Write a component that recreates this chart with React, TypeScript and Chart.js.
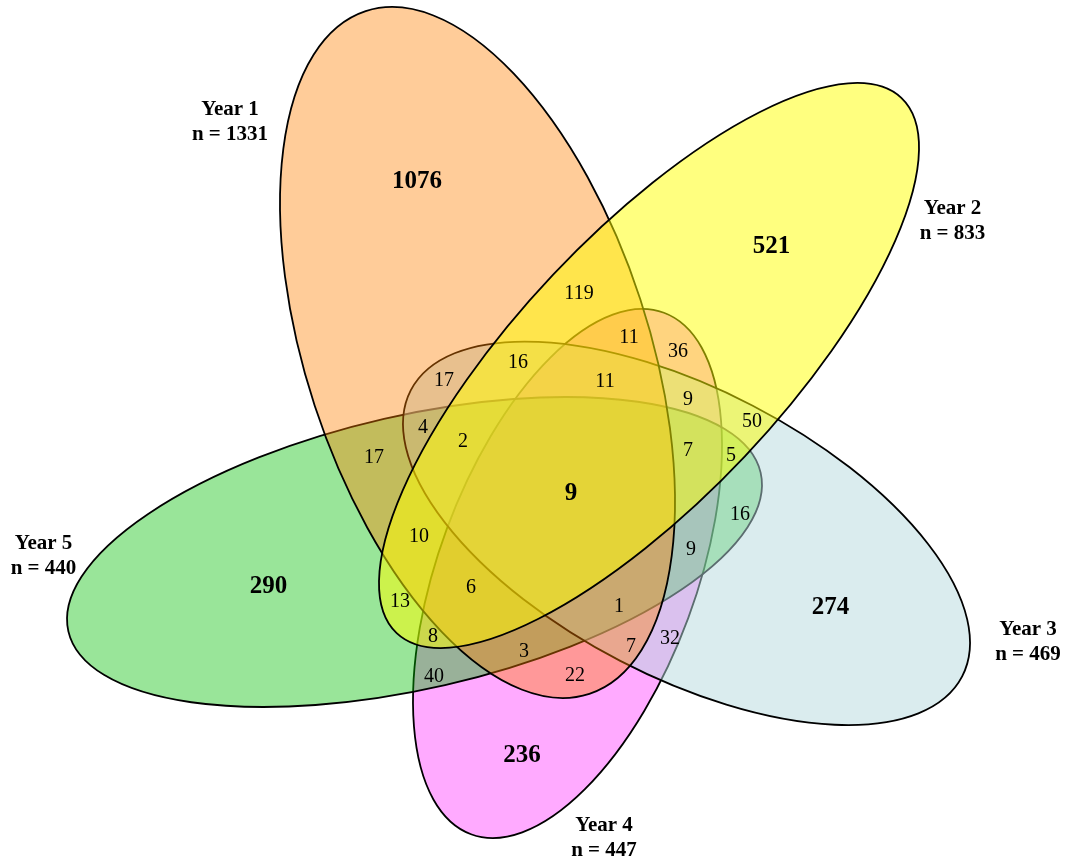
import React, { useEffect, useRef } from "react";
import { Chart, registerables } from "chart.js";

Chart.register(...registerables);

// ---- sets ----
const setNames = ["Year 1", "Year 2", "Year 3", "Year 4", "Year 5"];
const setSizes = [1331, 833, 469, 447, 440];
const uniqueCounts = [1076, 521, 274, 236, 290];
const allFiveCount = 9;

// ---- overlap region counts ----
const overlapCounts = [119, 11, 36, 16, 17, 11, 9, 4, 2, 17, 7, 10, 9, 50, 5, 16, 6, 13, 1, 8, 32, 3, 7, 40, 22];

// ---- label anchor positions (chart units, y downwards) ----
const overlapX = [579, 629, 678, 518, 444, 605, 688, 423, 463, 374, 688, 419, 691, 752, 731, 740, 471, 400, 619, 433, 670, 524, 631, 434, 575];
const overlapY = [294, 338, 352, 363, 381, 382, 400, 428, 442, 458, 451, 537, 550, 422, 456, 515, 588, 602, 607, 637, 639, 652, 647, 677, 676];
const uniqueX = [417, 771.5, 830.5, 522, 268.5];
const uniqueY = [182, 246.5, 608, 755.5, 587];
const centerX = [571];
const centerY = [494];
const nameX = [230, 952.5, 1028, 604, 43.5];
const nameY = [114.5, 213.5, 635, 831, 549];

// ---- ellipse geometry (chart units) ----
const ellipseCx = [477.5, 649, 686.5, 567.5, 414.5];
const ellipseCy = [352.5, 365.5, 533.3, 573.5, 552];
const ellipseRx = [359.2, 367.8, 310.6, 278, 355.1];
const ellipseRy = [171.3, 132.1, 143.8, 128.7, 136.6];
const ellipseRot = [71.86, -46.68, 27.44, -69.7, -12.91];
const ellipseFill = [
  "rgba(255,127,0,0.4)",
  "rgba(255,255,0,0.5)",
  "rgba(181,217,221,0.5)",
  "rgba(255,85,255,0.5)",
  "rgba(0,190,0,0.4)",
];
const drawOrder = [3, 4, 2, 0, 1];

const SERIF = "'Liberation Serif', 'Times New Roman', serif";

const vennPlugin = {
  id: "vennEllipses",
  beforeDatasetsDraw(chart: any) {
    const ctx = chart.ctx;
    const xs = chart.scales.x;
    const ys = chart.scales.y;
    ctx.save();
    for (const i of drawOrder) {
      const cx = xs.getPixelForValue(ellipseCx[i]);
      const cy = ys.getPixelForValue(ellipseCy[i]);
      const rx = Math.abs(xs.getPixelForValue(ellipseCx[i] + ellipseRx[i]) - cx);
      const ry = Math.abs(ys.getPixelForValue(ellipseCy[i] + ellipseRy[i]) - cy);
      ctx.beginPath();
      ctx.ellipse(cx, cy, rx, ry, (ellipseRot[i] * Math.PI) / 180, 0, Math.PI * 2);
      ctx.fillStyle = ellipseFill[i];
      ctx.fill();
      ctx.lineWidth = 1.8;
      ctx.strokeStyle = "#000";
      ctx.stroke();
    }
    ctx.restore();
  },
  afterDatasetsDraw(chart: any) {
    const ctx = chart.ctx;
    ctx.save();
    ctx.fillStyle = "#000";
    ctx.textAlign = "center";
    const styles = [
      { font: `20px ${SERIF}`, base: "middle" },
      { font: `bold 25px ${SERIF}`, base: "middle" },
      { font: `bold 25px ${SERIF}`, base: "middle" },
      { font: `bold 21px ${SERIF}`, base: "alphabetic" },
    ];
    chart.data.datasets.forEach((ds: any, di: number) => {
      const meta = chart.getDatasetMeta(di);
      const st = styles[di];
      ctx.font = st.font;
      ctx.textBaseline = st.base;
      meta.data.forEach((el: any, k: number) => {
        const raw = ds.data[k];
        const lines: string[] = raw.lines;
        lines.forEach((t, li) => ctx.fillText(t, el.x, el.y + li * 25));
      });
    });
    ctx.restore();
  },
};

export default function App() {
  const ref = useRef<HTMLCanvasElement | null>(null);
  useEffect(() => {
    if (!ref.current) return;
    const pt = { pointRadius: 0, pointHoverRadius: 0, pointBorderWidth: 0, borderWidth: 0, showLine: false };
    const chart = new Chart(ref.current, {
      type: "scatter",
      data: {
        datasets: [
          {
            label: "overlaps",
            data: overlapCounts.map((v, i) => ({ x: overlapX[i], y: overlapY[i], lines: [String(v)] })),
            ...pt,
          },
          {
            label: "unique",
            data: uniqueCounts.map((v, i) => ({ x: uniqueX[i], y: uniqueY[i], lines: [String(v)] })),
            ...pt,
          },
          {
            label: "all five",
            data: centerX.map((x, i) => ({ x, y: centerY[i], lines: [String(allFiveCount)] })),
            ...pt,
          },
          {
            label: "set names",
            data: setNames.map((n, i) => ({ x: nameX[i], y: nameY[i], lines: [n, `n = ${setSizes[i]}`] })),
            ...pt,
          },
        ] as any,
      },
      options: {
        responsive: false,
        animation: false,
        devicePixelRatio: 1,
        events: [],
        layout: { padding: 0, autoPadding: false },
        plugins: { legend: { display: false }, tooltip: { enabled: false } },
        scales: {
          x: { type: "linear", min: 0, max: 1066, display: false },
          y: { type: "linear", min: 0, max: 860, reverse: true, display: false },
        },
      } as any,
      plugins: [vennPlugin],
    });
    return () => chart.destroy();
  }, []);
  return (
    <div style={{ position: "absolute", left: 0, top: 0, width: 1066, height: 860, background: "#fff" }}>
      <canvas ref={ref} width={1066} height={860} />
    </div>
  );
}
